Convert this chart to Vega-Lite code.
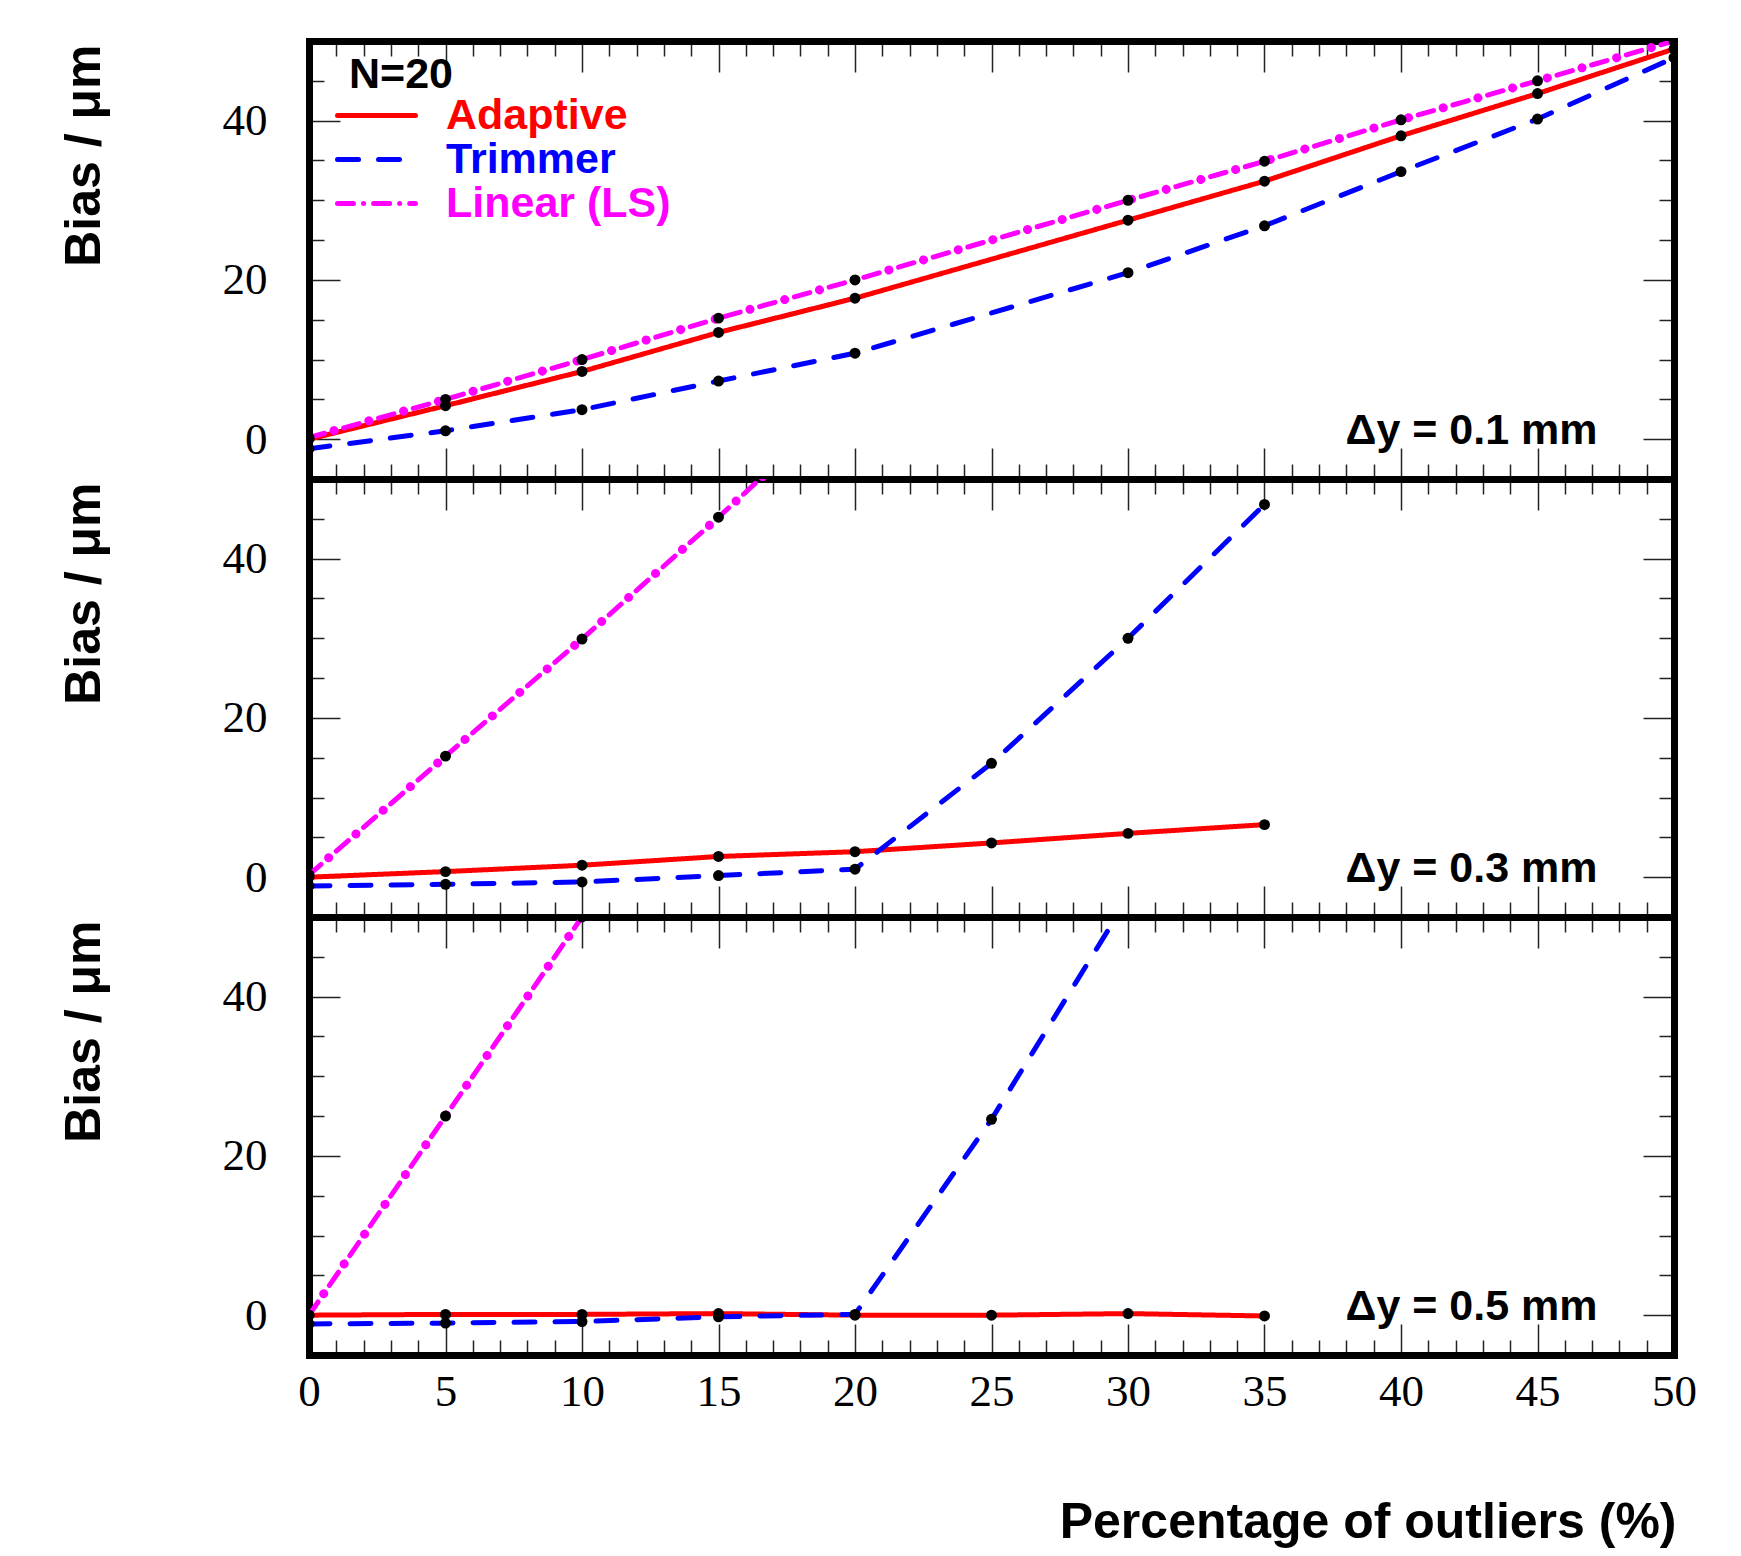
{
  "$schema": "https://vega.github.io/schema/vega-lite/v6.json",
  "padding": {"left": 59, "top": 40, "right": 10, "bottom": 5},
  "background": "white",
  "bounds": "flush",
  "spacing": 0,
  "datasets": {
    "bias": [
      {"dy": "0.1", "pct": 0, "series": "Adaptive", "bias": 0.0},
      {"dy": "0.1", "pct": 5, "series": "Adaptive", "bias": 4.2},
      {"dy": "0.1", "pct": 10, "series": "Adaptive", "bias": 8.5},
      {"dy": "0.1", "pct": 15, "series": "Adaptive", "bias": 13.4},
      {"dy": "0.1", "pct": 20, "series": "Adaptive", "bias": 17.7},
      {"dy": "0.1", "pct": 30, "series": "Adaptive", "bias": 27.5},
      {"dy": "0.1", "pct": 35, "series": "Adaptive", "bias": 32.4},
      {"dy": "0.1", "pct": 40, "series": "Adaptive", "bias": 38.1},
      {"dy": "0.1", "pct": 45, "series": "Adaptive", "bias": 43.4},
      {"dy": "0.1", "pct": 50, "series": "Adaptive", "bias": 49.0},
      {"dy": "0.1", "pct": 0, "series": "Trimmer", "bias": -1.2},
      {"dy": "0.1", "pct": 5, "series": "Trimmer", "bias": 1.05},
      {"dy": "0.1", "pct": 10, "series": "Trimmer", "bias": 3.7},
      {"dy": "0.1", "pct": 15, "series": "Trimmer", "bias": 7.3},
      {"dy": "0.1", "pct": 20, "series": "Trimmer", "bias": 10.8},
      {"dy": "0.1", "pct": 30, "series": "Trimmer", "bias": 20.9},
      {"dy": "0.1", "pct": 35, "series": "Trimmer", "bias": 26.8},
      {"dy": "0.1", "pct": 40, "series": "Trimmer", "bias": 33.6},
      {"dy": "0.1", "pct": 45, "series": "Trimmer", "bias": 40.2},
      {"dy": "0.1", "pct": 50, "series": "Trimmer", "bias": 47.9},
      {"dy": "0.1", "pct": 0, "series": "Linear (LS)", "bias": 0.2},
      {"dy": "0.1", "pct": 5, "series": "Linear (LS)", "bias": 5.0},
      {"dy": "0.1", "pct": 10, "series": "Linear (LS)", "bias": 10.0},
      {"dy": "0.1", "pct": 15, "series": "Linear (LS)", "bias": 15.2},
      {"dy": "0.1", "pct": 20, "series": "Linear (LS)", "bias": 20.0},
      {"dy": "0.1", "pct": 30, "series": "Linear (LS)", "bias": 30.0},
      {"dy": "0.1", "pct": 35, "series": "Linear (LS)", "bias": 34.9},
      {"dy": "0.1", "pct": 40, "series": "Linear (LS)", "bias": 40.1},
      {"dy": "0.1", "pct": 45, "series": "Linear (LS)", "bias": 45.0},
      {"dy": "0.1", "pct": 50, "series": "Linear (LS)", "bias": 50.0},

      {"dy": "0.3", "pct": 0, "series": "Adaptive", "bias": 0.0},
      {"dy": "0.3", "pct": 5, "series": "Adaptive", "bias": 0.7},
      {"dy": "0.3", "pct": 10, "series": "Adaptive", "bias": 1.5},
      {"dy": "0.3", "pct": 15, "series": "Adaptive", "bias": 2.6},
      {"dy": "0.3", "pct": 20, "series": "Adaptive", "bias": 3.2},
      {"dy": "0.3", "pct": 25, "series": "Adaptive", "bias": 4.3},
      {"dy": "0.3", "pct": 30, "series": "Adaptive", "bias": 5.5},
      {"dy": "0.3", "pct": 35, "series": "Adaptive", "bias": 6.6},
      {"dy": "0.3", "pct": 0, "series": "Trimmer", "bias": -1.1},
      {"dy": "0.3", "pct": 5, "series": "Trimmer", "bias": -0.9},
      {"dy": "0.3", "pct": 10, "series": "Trimmer", "bias": -0.6},
      {"dy": "0.3", "pct": 15, "series": "Trimmer", "bias": 0.2},
      {"dy": "0.3", "pct": 20, "series": "Trimmer", "bias": 1.0},
      {"dy": "0.3", "pct": 25, "series": "Trimmer", "bias": 14.3},
      {"dy": "0.3", "pct": 30, "series": "Trimmer", "bias": 30.0},
      {"dy": "0.3", "pct": 35, "series": "Trimmer", "bias": 46.8},
      {"dy": "0.3", "pct": 0, "series": "Linear (LS)", "bias": 0.3},
      {"dy": "0.3", "pct": 5, "series": "Linear (LS)", "bias": 15.2},
      {"dy": "0.3", "pct": 10, "series": "Linear (LS)", "bias": 29.9},
      {"dy": "0.3", "pct": 15, "series": "Linear (LS)", "bias": 45.2},
      {"dy": "0.3", "pct": 20, "series": "Linear (LS)", "bias": 61.0},

      {"dy": "0.5", "pct": 0, "series": "Adaptive", "bias": 0.0},
      {"dy": "0.5", "pct": 5, "series": "Adaptive", "bias": 0.1},
      {"dy": "0.5", "pct": 10, "series": "Adaptive", "bias": 0.1},
      {"dy": "0.5", "pct": 15, "series": "Adaptive", "bias": 0.2},
      {"dy": "0.5", "pct": 20, "series": "Adaptive", "bias": 0.0},
      {"dy": "0.5", "pct": 25, "series": "Adaptive", "bias": 0.0},
      {"dy": "0.5", "pct": 30, "series": "Adaptive", "bias": 0.2},
      {"dy": "0.5", "pct": 35, "series": "Adaptive", "bias": -0.1},
      {"dy": "0.5", "pct": 0, "series": "Trimmer", "bias": -1.1},
      {"dy": "0.5", "pct": 5, "series": "Trimmer", "bias": -1.0},
      {"dy": "0.5", "pct": 10, "series": "Trimmer", "bias": -0.8},
      {"dy": "0.5", "pct": 15, "series": "Trimmer", "bias": -0.2},
      {"dy": "0.5", "pct": 20, "series": "Trimmer", "bias": 0.1},
      {"dy": "0.5", "pct": 25, "series": "Trimmer", "bias": 24.6},
      {"dy": "0.5", "pct": 30, "series": "Trimmer", "bias": 52.4},
      {"dy": "0.5", "pct": 0, "series": "Linear (LS)", "bias": 0.0},
      {"dy": "0.5", "pct": 5, "series": "Linear (LS)", "bias": 25.0},
      {"dy": "0.5", "pct": 10, "series": "Linear (LS)", "bias": 50.0}
    ],
    "labels": [
      {"dy": "0.1", "text": "Δy = 0.1 mm"},
      {"dy": "0.3", "text": "Δy = 0.3 mm"},
      {"dy": "0.5", "text": "Δy = 0.5 mm"}
    ]
  },
  "config": {
    "view": {"stroke": null},
    "axis": {
      "grid": false,
      "domainColor": "black",
      "domainWidth": 7,
      "domainCap": "square",
      "tickColor": "#222222",
      "tickWidth": 1.5,
      "labelFont": "Liberation Serif",
      "labelFontSize": 45,
      "labelColor": "black",
      "labelFlush": false,
      "labelOverlap": false,
      "zindex": 1,
      "titleFont": "Liberation Sans",
      "titleFontWeight": "bold",
      "titleColor": "black"
    }
  },
  "resolve": {
    "scale": {"color": "independent", "strokeDash": "independent"},
    "legend": {"color": "independent", "strokeDash": "independent"}
  },
  "vconcat": [
    {
      "width": 1365, "height": 438,
      "layer": [
        {
          "data": {"name": "bias"},
          "transform": [{"filter": "datum.dy === '0.1'"}],
          "mark": {"type": "line", "clip": true, "strokeWidth": 5, "strokeCap": "round"},
          "encoding": {
            "x": {"field": "pct", "type": "quantitative", "scale": {"domain": [0, 50], "nice": false},
              "axis": {"orient": "bottom", "values": [0,1,2,3,4,5,6,7,8,9,10,11,12,13,14,15,16,17,18,19,20,21,22,23,24,25,26,27,28,29,30,31,32,33,34,35,36,37,38,39,40,41,42,43,44,45,46,47,48,49,50],
                "tickSize": {"condition": {"test": "datum.value % 5 === 0", "value": -31}, "value": -15},
                "labels": false, "title": null}},
            "y": {"field": "bias", "type": "quantitative", "scale": {"domain": [-5, 50], "nice": false},
              "axis": {"orient": "left", "values": [0,5,10,15,20,25,30,35,40,45],
                "tickSize": {"condition": {"test": "datum.value % 20 === 0", "value": -31}, "value": -15},
                "labelExpr": "datum.value % 20 === 0 ? datum.label : ''", "labelPadding": 73,
                "title": "Bias / μm", "titleX": -210, "titleY": 3, "titleAngle": 270, "titleAlign": "right", "titleBaseline": "alphabetic", "titleFontSize": 50}},
            "color": {"field": "series", "type": "nominal",
              "scale": {"domain": ["Adaptive", "Trimmer", "Linear (LS)"], "range": ["#ff0000", "#0000ff", "#ff00ff"]},
              "legend": {
                "title": "N=20", "orient": "none", "legendX": 40, "legendY": 13, "padding": 0,
                "titleFont": "Liberation Sans", "titleFontSize": 43, "titleFontWeight": "bold", "titleColor": "black", "titlePadding": -3,
                "labelFont": "Liberation Sans", "labelFontSize": 43, "labelFontWeight": "bold", "labelOffset": 48, "labelLimit": 0,
                "symbolType": "M-4,0H4", "symbolSize": 380, "symbolStrokeWidth": 5, "rowPadding": -1,
                "encode": {
                  "labels": {"update": {"fill": {"signal": "datum.value === 'Adaptive' ? '#ff0000' : datum.value === 'Trimmer' ? '#0000ff' : '#ff00ff'"}}},
                  "symbols": {"update": {"strokeCap": {"value": "round"}}},
                  "title": {"update": {"dx": {"value": -6}}}
                }
              }},
            "strokeDash": {"field": "series", "type": "nominal",
              "scale": {"domain": ["Adaptive", "Trimmer", "Linear (LS)"], "range": [[1, 0], [21, 20], [16, 10, 0.1, 10]]}}
          }
        },
        {
          "data": {"name": "bias"},
          "transform": [{"filter": "datum.dy === '0.1' && datum.series === 'Linear (LS)'"}],
          "mark": {"type": "line", "clip": true, "strokeWidth": 9, "strokeCap": "round", "color": "#ff00ff", "strokeDash": [0.1, 36], "strokeDashOffset": 10.1},
          "encoding": {
            "x": {"field": "pct", "type": "quantitative", "axis": null},
            "y": {"field": "bias", "type": "quantitative", "axis": null}
          }
        },
        {
          "data": {"name": "bias"},
          "transform": [{"filter": "datum.dy === '0.1'"}],
          "mark": {"type": "point", "filled": true, "color": "black", "opacity": 1, "size": 120, "clip": true},
          "encoding": {
            "x": {"field": "pct", "type": "quantitative",
              "axis": {"orient": "top", "values": [0,1,2,3,4,5,6,7,8,9,10,11,12,13,14,15,16,17,18,19,20,21,22,23,24,25,26,27,28,29,30,31,32,33,34,35,36,37,38,39,40,41,42,43,44,45,46,47,48,49,50],
                "tickSize": {"condition": {"test": "datum.value % 5 === 0", "value": -31}, "value": -15},
                "labels": false, "title": null}},
            "y": {"field": "bias", "type": "quantitative",
              "axis": {"orient": "right", "values": [0,5,10,15,20,25,30,35,40,45],
                "tickSize": {"condition": {"test": "datum.value % 20 === 0", "value": -31}, "value": -15},
                "labels": false, "title": null}}
          }
        },
        {
          "data": {"name": "labels"},
          "transform": [{"filter": "datum.dy === '0.1'"}],
          "mark": {"type": "text", "align": "right", "baseline": "alphabetic", "font": "Liberation Sans", "fontWeight": "bold", "fontSize": 43, "color": "black"},
          "encoding": {
            "text": {"field": "text"},
            "x": {"datum": 47.2, "type": "quantitative", "axis": null},
            "y": {"datum": -0.6, "type": "quantitative", "axis": null}
          }
        }
      ],
      "resolve": {"axis": {"x": "independent", "y": "independent"}}
    },
    {
      "width": 1365, "height": 438,
      "layer": [
        {
          "data": {"name": "bias"},
          "transform": [{"filter": "datum.dy === '0.3'"}],
          "mark": {"type": "line", "clip": true, "strokeWidth": 5, "strokeCap": "round"},
          "encoding": {
            "x": {"field": "pct", "type": "quantitative", "scale": {"domain": [0, 50], "nice": false},
              "axis": {"orient": "bottom", "values": [0,1,2,3,4,5,6,7,8,9,10,11,12,13,14,15,16,17,18,19,20,21,22,23,24,25,26,27,28,29,30,31,32,33,34,35,36,37,38,39,40,41,42,43,44,45,46,47,48,49,50],
                "tickSize": {"condition": {"test": "datum.value % 5 === 0", "value": -31}, "value": -15},
                "labels": false, "title": null}},
            "y": {"field": "bias", "type": "quantitative", "scale": {"domain": [-5, 50], "nice": false},
              "axis": {"orient": "left", "values": [0,5,10,15,20,25,30,35,40,45],
                "tickSize": {"condition": {"test": "datum.value % 20 === 0", "value": -31}, "value": -15},
                "labelExpr": "datum.value % 20 === 0 ? datum.label : ''", "labelPadding": 73,
                "title": "Bias / μm", "titleX": -210, "titleY": 3, "titleAngle": 270, "titleAlign": "right", "titleBaseline": "alphabetic", "titleFontSize": 50}},
            "color": {"field": "series", "type": "nominal",
              "scale": {"domain": ["Adaptive", "Trimmer", "Linear (LS)"], "range": ["#ff0000", "#0000ff", "#ff00ff"]}, "legend": null},
            "strokeDash": {"field": "series", "type": "nominal",
              "scale": {"domain": ["Adaptive", "Trimmer", "Linear (LS)"], "range": [[1, 0], [21, 20], [16, 10, 0.1, 10]]}, "legend": null}
          }
        },
        {
          "data": {"name": "bias"},
          "transform": [{"filter": "datum.dy === '0.3' && datum.series === 'Linear (LS)'"}],
          "mark": {"type": "line", "clip": true, "strokeWidth": 9, "strokeCap": "round", "color": "#ff00ff", "strokeDash": [0.1, 36], "strokeDashOffset": 10.1},
          "encoding": {
            "x": {"field": "pct", "type": "quantitative", "axis": null},
            "y": {"field": "bias", "type": "quantitative", "axis": null}
          }
        },
        {
          "data": {"name": "bias"},
          "transform": [{"filter": "datum.dy === '0.3'"}],
          "mark": {"type": "point", "filled": true, "color": "black", "opacity": 1, "size": 120, "clip": true},
          "encoding": {
            "x": {"field": "pct", "type": "quantitative",
              "axis": {"orient": "top", "values": [0,1,2,3,4,5,6,7,8,9,10,11,12,13,14,15,16,17,18,19,20,21,22,23,24,25,26,27,28,29,30,31,32,33,34,35,36,37,38,39,40,41,42,43,44,45,46,47,48,49,50],
                "tickSize": {"condition": {"test": "datum.value % 5 === 0", "value": -31}, "value": -15},
                "labels": false, "title": null}},
            "y": {"field": "bias", "type": "quantitative",
              "axis": {"orient": "right", "values": [0,5,10,15,20,25,30,35,40,45],
                "tickSize": {"condition": {"test": "datum.value % 20 === 0", "value": -31}, "value": -15},
                "labels": false, "title": null}}
          }
        },
        {
          "data": {"name": "labels"},
          "transform": [{"filter": "datum.dy === '0.3'"}],
          "mark": {"type": "text", "align": "right", "baseline": "alphabetic", "font": "Liberation Sans", "fontWeight": "bold", "fontSize": 43, "color": "black"},
          "encoding": {
            "text": {"field": "text"},
            "x": {"datum": 47.2, "type": "quantitative", "axis": null},
            "y": {"datum": -0.6, "type": "quantitative", "axis": null}
          }
        }
      ],
      "resolve": {"axis": {"x": "independent", "y": "independent"}}
    },
    {
      "width": 1365, "height": 438,
      "layer": [
        {
          "data": {"name": "bias"},
          "transform": [{"filter": "datum.dy === '0.5'"}],
          "mark": {"type": "line", "clip": true, "strokeWidth": 5, "strokeCap": "round"},
          "encoding": {
            "x": {"field": "pct", "type": "quantitative", "scale": {"domain": [0, 50], "nice": false},
              "axis": {"orient": "bottom", "values": [0,1,2,3,4,5,6,7,8,9,10,11,12,13,14,15,16,17,18,19,20,21,22,23,24,25,26,27,28,29,30,31,32,33,34,35,36,37,38,39,40,41,42,43,44,45,46,47,48,49,50],
                "tickSize": {"condition": {"test": "datum.value % 5 === 0", "value": -31}, "value": -15},
                "labelExpr": "datum.value % 5 === 0 ? datum.label : ''", "labelPadding": 45,
                "title": "Percentage of outliers (%)", "titleX": 1367, "titleY": 182, "titleAlign": "right", "titleBaseline": "alphabetic", "titleFontSize": 50}},
            "y": {"field": "bias", "type": "quantitative", "scale": {"domain": [-5, 50], "nice": false},
              "axis": {"orient": "left", "values": [0,5,10,15,20,25,30,35,40,45],
                "tickSize": {"condition": {"test": "datum.value % 20 === 0", "value": -31}, "value": -15},
                "labelExpr": "datum.value % 20 === 0 ? datum.label : ''", "labelPadding": 73,
                "title": "Bias / μm", "titleX": -210, "titleY": 3, "titleAngle": 270, "titleAlign": "right", "titleBaseline": "alphabetic", "titleFontSize": 50}},
            "color": {"field": "series", "type": "nominal",
              "scale": {"domain": ["Adaptive", "Trimmer", "Linear (LS)"], "range": ["#ff0000", "#0000ff", "#ff00ff"]}, "legend": null},
            "strokeDash": {"field": "series", "type": "nominal",
              "scale": {"domain": ["Adaptive", "Trimmer", "Linear (LS)"], "range": [[1, 0], [21, 20], [16, 10, 0.1, 10]]}, "legend": null}
          }
        },
        {
          "data": {"name": "bias"},
          "transform": [{"filter": "datum.dy === '0.5' && datum.series === 'Linear (LS)'"}],
          "mark": {"type": "line", "clip": true, "strokeWidth": 9, "strokeCap": "round", "color": "#ff00ff", "strokeDash": [0.1, 36], "strokeDashOffset": 10.1},
          "encoding": {
            "x": {"field": "pct", "type": "quantitative", "axis": null},
            "y": {"field": "bias", "type": "quantitative", "axis": null}
          }
        },
        {
          "data": {"name": "bias"},
          "transform": [{"filter": "datum.dy === '0.5'"}],
          "mark": {"type": "point", "filled": true, "color": "black", "opacity": 1, "size": 120, "clip": true},
          "encoding": {
            "x": {"field": "pct", "type": "quantitative",
              "axis": {"orient": "top", "values": [0,1,2,3,4,5,6,7,8,9,10,11,12,13,14,15,16,17,18,19,20,21,22,23,24,25,26,27,28,29,30,31,32,33,34,35,36,37,38,39,40,41,42,43,44,45,46,47,48,49,50],
                "tickSize": {"condition": {"test": "datum.value % 5 === 0", "value": -31}, "value": -15},
                "labels": false, "title": null}},
            "y": {"field": "bias", "type": "quantitative",
              "axis": {"orient": "right", "values": [0,5,10,15,20,25,30,35,40,45],
                "tickSize": {"condition": {"test": "datum.value % 20 === 0", "value": -31}, "value": -15},
                "labels": false, "title": null}}
          }
        },
        {
          "data": {"name": "labels"},
          "transform": [{"filter": "datum.dy === '0.5'"}],
          "mark": {"type": "text", "align": "right", "baseline": "alphabetic", "font": "Liberation Sans", "fontWeight": "bold", "fontSize": 43, "color": "black"},
          "encoding": {
            "text": {"field": "text"},
            "x": {"datum": 47.2, "type": "quantitative", "axis": null},
            "y": {"datum": -0.6, "type": "quantitative", "axis": null}
          }
        }
      ],
      "resolve": {"axis": {"x": "independent", "y": "independent"}}
    }
  ]
}
